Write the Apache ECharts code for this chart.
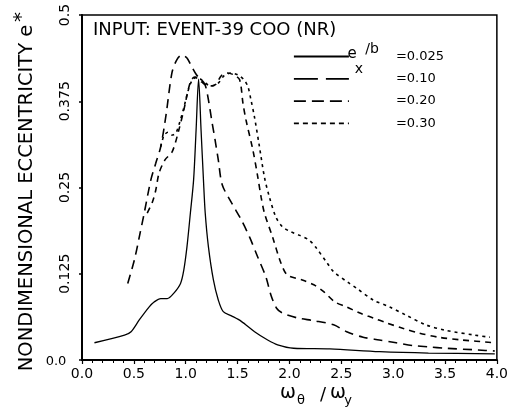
<!DOCTYPE html>
<html>
<head>
<meta charset="utf-8">
<script src="https://cdn.jsdelivr.net/npm/echarts@6/dist/echarts.min.js"></script>
<style>html,body{margin:0;padding:0;background:#fff}#c{width:511px;height:407px}</style>
</head>
<body>
<div id="c"></div>
<script>
// ---- data ----
const seriesNames = ['0.025', '0.10', '0.20', '0.30'];
const xTicks = ['0.0','0.5','1.0','1.5','2.0','2.5','3.0','3.5','4.0'];
const yTicks = ['0.0','0.125','0.25','0.375','0.5'];

const e025 = [[0.12,0.025],[0.41,0.036],[0.473,0.041],[0.552,0.058],[0.648,0.077],[0.695,0.084],[0.759,0.089],[0.822,0.089],[0.886,0.097],[0.95,0.111],[0.981,0.130],[1.012,0.164],[1.045,0.213],[1.076,0.261],[1.1,0.333],[1.124,0.407],[1.148,0.333],[1.171,0.261],[1.188,0.213],[1.219,0.164],[1.267,0.116],[1.314,0.087],[1.362,0.070],[1.441,0.064],[1.536,0.056],[1.664,0.041],[1.79,0.029],[1.886,0.022],[2.04,0.017],[2.39,0.016],[2.87,0.012],[3.34,0.010],[3.98,0.009]];

const e010 = [[0.441,0.111],[0.505,0.145],[0.552,0.178],[0.6,0.213],[0.664,0.261],[0.711,0.285],[0.759,0.309],[0.81,0.355],[0.867,0.416],[0.914,0.435],[0.962,0.442],[1.01,0.438],[1.048,0.428],[1.105,0.413],[1.152,0.406],[1.187,0.399],[1.219,0.377],[1.25,0.348],[1.283,0.319],[1.314,0.29],[1.352,0.254],[1.441,0.228],[1.536,0.203],[1.616,0.178],[1.695,0.149],[1.774,0.12],[1.822,0.094],[1.876,0.075],[1.933,0.068],[2.076,0.061],[2.235,0.057],[2.426,0.051],[2.552,0.041],[2.71,0.033],[2.867,0.029],[3.029,0.025],[3.188,0.021],[3.343,0.019],[3.505,0.017],[3.819,0.0145],[3.98,0.013]];

const e020 = [[0.629,0.213],[0.679,0.229],[0.711,0.246],[0.743,0.271],[0.8,0.29],[0.87,0.302],[0.933,0.333],[0.981,0.362],[1.045,0.403],[1.086,0.41],[1.152,0.403],[1.219,0.397],[1.286,0.399],[1.343,0.412],[1.4,0.416],[1.467,0.413],[1.52,0.406],[1.552,0.372],[1.581,0.348],[1.648,0.304],[1.695,0.265],[1.727,0.236],[1.759,0.213],[1.838,0.178],[1.917,0.141],[1.981,0.123],[2.124,0.116],[2.235,0.109],[2.33,0.099],[2.44,0.084],[2.552,0.077],[2.679,0.068],[2.807,0.061],[2.933,0.054],[3.092,0.046],[3.25,0.039],[3.44,0.033],[3.664,0.029],[3.98,0.025]];

const e030 = [[0.759,0.309],[0.79,0.325],[0.829,0.33],[0.867,0.326],[0.905,0.329],[0.943,0.345],[0.981,0.365],[1.019,0.388],[1.057,0.404],[1.105,0.41],[1.171,0.404],[1.238,0.397],[1.305,0.4],[1.371,0.412],[1.438,0.416],[1.505,0.413],[1.562,0.406],[1.6,0.396],[1.629,0.377],[1.663,0.352],[1.711,0.309],[1.759,0.265],[1.807,0.236],[1.87,0.207],[1.933,0.193],[2.01,0.186],[2.092,0.181],[2.188,0.174],[2.25,0.164],[2.362,0.141],[2.426,0.128],[2.569,0.112],[2.648,0.104],[2.807,0.087],[2.964,0.077],[3.124,0.065],[3.314,0.051],[3.505,0.043],[3.79,0.036],[3.933,0.033]];

const seriesData = [e025, e010, e020, e030];
const dashTypes = ['solid', [9,6], [6,5], [3,4]];
const legendDash = ['solid', [24,8], [12,6], [5,4]];
const titleText = 'INPUT: EVENT-39 COO (NR)';
const yTitle = 'NONDIMENSIONAL ECCENTRICITY e';

const FONT = 'DejaVu Sans';
const chart = echarts.init(document.getElementById('c'), null, {renderer: 'canvas'});

const series = seriesNames.map((n, i) => ({
  name: n,
  type: 'line',
  data: seriesData[i],
  symbol: 'none',
  smooth: 0.3,
  itemStyle: {color: '#000'},
  lineStyle: {color: '#000', width: i === 0 ? 1.3 : 1.6, type: dashTypes[i]},
  z: 3
}));

chart.setOption({
  animation: false,
  backgroundColor: '#fff',
  textStyle: {fontFamily: FONT, color: '#000'},
  grid: {left: 82, right: 9, top: 15, bottom: 47, show: true, borderColor: '#000', borderWidth: 1.5, backgroundColor: 'transparent'},
  xAxis: {
    type: 'value', min: 0, max: 4, interval: 0.5,
    axisLine: {lineStyle: {color: '#000', width: 2}},
    axisTick: {show: true, length: 4, lineStyle: {color: '#000', width: 1.2}},
    minorTick: {show: true, splitNumber: 5, length: 3, lineStyle: {color: '#000', width: 1}},
    splitLine: {show: false},
    axisLabel: {margin: 7, fontSize: 14, fontFamily: FONT, color: '#000',
      formatter: v => xTicks[Math.round(v / 0.5)]}
  },
  yAxis: {
    type: 'value', min: 0, max: 0.5, interval: 0.125,
    axisLine: {lineStyle: {color: '#000', width: 2}},
    axisTick: {show: true, length: 3, lineStyle: {color: '#000', width: 1.5}},
    splitLine: {show: false},
    axisLabel: {rotate: 90, margin: 10, fontSize: 14, fontFamily: FONT, color: '#000',
      formatter: v => { const k = Math.round(v / 0.125); return k === 0 ? '' : yTicks[k]; }}
  },
  legend: {
    orient: 'vertical', left: 288, top: 45, itemWidth: 55, itemHeight: 14, itemGap: 9.3,
    itemStyle: {opacity: 0, borderWidth: 0},
    data: seriesNames.map((n, i) => ({name: n, itemStyle: {opacity: 0}, lineStyle: {type: legendDash[i], width: 1.8, color: '#000'}})),
    formatter: n => '{s| }{v|=' + n + '}',
    textStyle: {fontFamily: FONT, fontSize: 13, color: '#000',
      rich: {s: {width: 42, fontSize: 13}, v: {fontSize: 13, fontFamily: FONT, color: '#000'}}},
    selectedMode: false
  },
  graphic: [
    {type: 'text', left: 93, top: 21, style: {text: titleText, font: '18px "DejaVu Sans"', fill: '#000'}},
    {type: 'text', x: 27, y: 198, rotation: Math.PI / 2, style: {text: yTitle, font: '19.5px "DejaVu Sans"', fill: '#000', align: 'center', verticalAlign: 'middle'}},
    {type: 'text', x: 22, y: 17, rotation: Math.PI / 2, style: {text: '*', font: '20px "DejaVu Sans"', fill: '#000', align: 'center', verticalAlign: 'middle'}},
    {type: 'text', x: 56, y: 362, style: {text: '0.0', font: '13px "DejaVu Sans"', fill: '#000', align: 'center', verticalAlign: 'middle'}},
    {type: 'text', x: 352, y: 54, style: {text: 'e', font: '15px "DejaVu Sans"', fill: '#000', align: 'center', verticalAlign: 'middle'}},
    {type: 'text', x: 359, y: 69, style: {text: 'x', font: '14px "DejaVu Sans"', fill: '#000', align: 'center', verticalAlign: 'middle'}},
    {type: 'text', x: 372, y: 49, style: {text: '/b', font: '14px "DejaVu Sans"', fill: '#000', align: 'center', verticalAlign: 'middle'}},
    {type: 'text', x: 288, y: 393, style: {text: 'ω', font: '19px "DejaVu Sans"', fill: '#000', align: 'center', verticalAlign: 'middle'}},
    {type: 'text', x: 301, y: 401, style: {text: 'θ', font: '13px "DejaVu Sans"', fill: '#000', align: 'center', verticalAlign: 'middle'}},
    {type: 'text', x: 323, y: 395, style: {text: '/', font: '18px "DejaVu Sans"', fill: '#000', align: 'center', verticalAlign: 'middle'}},
    {type: 'text', x: 338, y: 393, style: {text: 'ω', font: '19px "DejaVu Sans"', fill: '#000', align: 'center', verticalAlign: 'middle'}},
    {type: 'text', x: 348, y: 401, style: {text: 'y', font: '13px "DejaVu Sans"', fill: '#000', align: 'center', verticalAlign: 'middle'}}
  ],
  series: series
});
</script>
</body>
</html>
